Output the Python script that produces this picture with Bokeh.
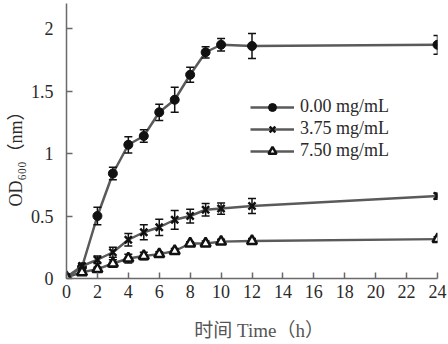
import numpy as np
from bokeh.plotting import figure
from bokeh.models import Legend, LegendItem, FixedTicker, ColumnDataSource
from bokeh.embed import file_html
from bokeh.resources import INLINE

# ---- data ----
time_h = [0, 1, 2, 3, 4, 5, 6, 7, 8, 9, 10, 12, 24]
od_000 = [0.01, 0.09, 0.50, 0.84, 1.07, 1.14, 1.33, 1.43, 1.63, 1.81, 1.87, 1.86, 1.87]
err_000 = [0.01, 0.02, 0.07, 0.05, 0.065, 0.05, 0.065, 0.10, 0.06, 0.045, 0.05, 0.10, 0.075]
od_375 = [0.01, 0.10, 0.15, 0.21, 0.31, 0.37, 0.41, 0.47, 0.50, 0.55, 0.56, 0.58, 0.66]
err_375 = [0.01, 0.02, 0.03, 0.04, 0.05, 0.06, 0.065, 0.075, 0.055, 0.05, 0.045, 0.06, 0.025]
od_750 = [0.01, 0.05, 0.075, 0.12, 0.16, 0.18, 0.195, 0.22, 0.28, 0.28, 0.295, 0.30, 0.315]
err_750 = [0.01, 0.01, 0.015, 0.03, 0.035, 0.03, 0.02, 0.02, 0.015, 0.02, 0.02, 0.02, 0.02]
series_labels = ["0.00 mg/mL", "3.75 mg/mL", "7.50 mg/mL"]
x_ticks = list(range(0, 25, 2))
y_ticks = [0, 0.5, 1, 1.5, 2]
y_tick_labels = ["0", "0.5", "1", "1.5", "2"]
x_title = "时间 Time（h）"
y_title = "OD₆₀₀（nm）"

FONT = "Liberation Serif, Noto Sans CJK SC"
LINE_C = "#5a5a5a"
MARK_C = "#111111"
TEXT_C = "#2a2a2a"
NB = "\u00a0"

p = figure(width=448, height=344, x_range=(0, 24), y_range=(0, 2.2),
           output_backend="svg", toolbar_location=None,
           min_border_left=66, min_border_right=11, min_border_top=3, min_border_bottom=66)
p.grid.visible = False
p.outline_line_color = None
p.background_fill_color = "white"
p.border_fill_color = "white"

for ax in (p.xaxis[0], p.yaxis[0]):
    ax.axis_line_color = "#6a6a6a"
    ax.axis_line_width = 1.5
    ax.major_tick_line_color = "#6a6a6a"
    ax.major_tick_line_width = 1.5
    ax.major_tick_in = 6
    ax.major_tick_out = 0
    ax.minor_tick_line_color = None
    ax.major_label_text_font = FONT
    ax.major_label_text_font_size = "18px"
    ax.major_label_text_color = TEXT_C
    ax.axis_label_text_font = FONT
    ax.axis_label_text_font_size = "18px"
    ax.axis_label_text_font_style = "normal"

p.xaxis.ticker = FixedTicker(ticks=x_ticks)
p.yaxis.ticker = FixedTicker(ticks=y_ticks)
p.yaxis.major_label_overrides = {t: s for t, s in zip(y_ticks, y_tick_labels)}
p.xaxis.major_label_standoff = 6
p.yaxis.major_label_standoff = 13

p.xaxis.axis_label = NB * 3 + x_title
p.xaxis.axis_label_standoff = 19
p.xaxis.axis_label_text_font_size = "19px"
p.xaxis.axis_label_text_color = "#555555"
p.yaxis.axis_label = y_title + NB * 6
p.yaxis.axis_label_standoff = 2
p.yaxis.axis_label_text_color = TEXT_C

items = []
specs = [
    (od_000, err_000, dict(marker="circle", size=9, fill_color=MARK_C, line_color=MARK_C, line_width=1)),
    (od_375, err_375, dict(marker="x", size=10, line_color=MARK_C, line_width=2.5)),
    (od_750, err_750, dict(marker="triangle", size=10, fill_color="white", line_color=MARK_C, line_width=2.5)),
]
for (ys, es, mk), lab in zip(specs, series_labels):
    src = ColumnDataSource(dict(x=time_h, y=ys,
                                lo=[a - b for a, b in zip(ys, es)],
                                hi=[a + b for a, b in zip(ys, es)]))
    ln = p.line("x", "y", source=src, line_color=LINE_C, line_width=2.5)
    p.segment(x0="x", y0="lo", x1="x", y1="hi", source=src, line_color=MARK_C, line_width=1.5)
    p.scatter("x", "lo", source=src, marker="dash", size=8, line_color=MARK_C, line_width=1.5)
    p.scatter("x", "hi", source=src, marker="dash", size=8, line_color=MARK_C, line_width=1.5)
    sc = p.scatter("x", "y", source=src, **mk)
    items.append(LegendItem(label=lab, renderers=[ln, sc]))

legend = Legend(items=items, location=(184, 117), orientation="vertical",
                glyph_width=44, glyph_height=20, label_height=20, label_standoff=6,
                spacing=1, padding=0, margin=0,
                border_line_color=None, background_fill_alpha=0,
                label_text_font=FONT, label_text_font_size="18px", label_text_color=TEXT_C)
p.add_layout(legend)

open("out.html", "w").write(file_html(p, INLINE))
